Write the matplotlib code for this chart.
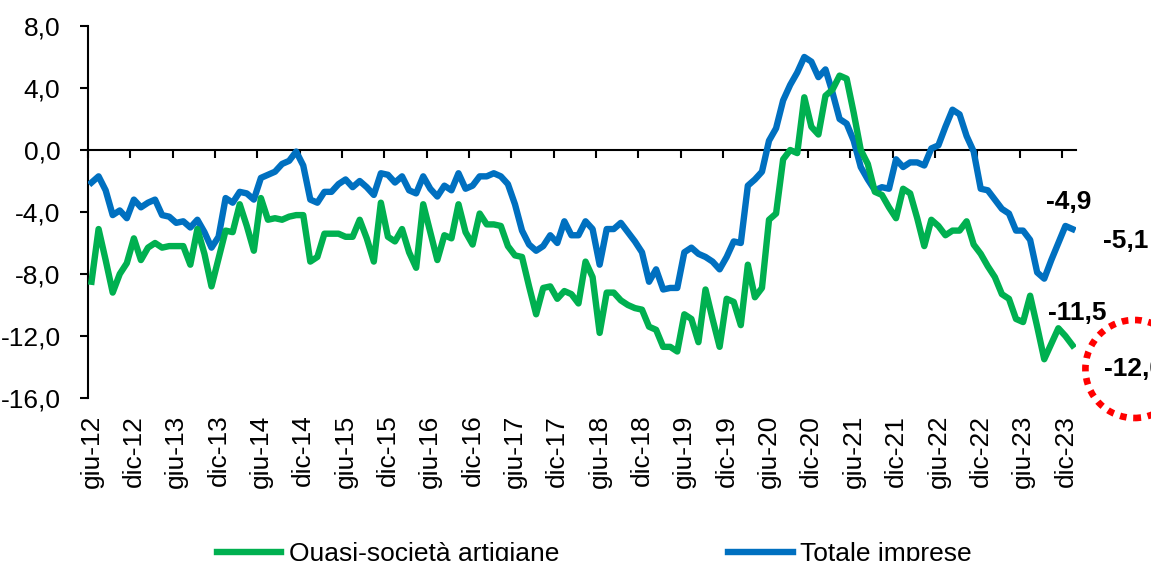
import numpy as np
import pandas as pd
import matplotlib
matplotlib.use("Agg")
import matplotlib.pyplot as plt
from matplotlib.ticker import FixedLocator, FuncFormatter
from matplotlib.transforms import blended_transform_factory

plt.rcParams['font.family'] = ['Liberation Sans', 'DejaVu Sans']

# Periodi mensili: giugno 2012 - gennaio 2024
mesi_it = ['gen', 'feb', 'mar', 'apr', 'mag', 'giu', 'lug', 'ago', 'set', 'ott', 'nov', 'dic']
date = pd.date_range('2012-06-01', '2024-01-01', freq='MS')
periodi = [f"{mesi_it[d.month - 1]}-{d.year % 100:02d}" for d in date]

# Tassi di variazione (%) - Quasi-società artigiane
quasi_soc = [
    -8.5, -5.1, -7.1, -9.2, -8.0, -7.3, -5.7, -7.1, -6.3, -6.0,
    -6.3, -6.2, -6.2, -6.2, -7.4, -5.1, -6.7, -8.8, -7.0, -5.2,
    -5.3, -3.5, -4.9, -6.5, -3.1, -4.5, -4.4, -4.5, -4.3, -4.2,
    -4.2, -7.2, -6.9, -5.4, -5.4, -5.4, -5.6, -5.6, -4.5, -5.7,
    -7.2, -3.4, -5.6, -5.9, -5.1, -6.6, -7.6, -3.5, -5.3, -7.1,
    -5.5, -5.7, -3.5, -5.3, -6.1, -4.1, -4.8, -4.8, -4.9, -6.2,
    -6.8, -6.9, -8.8, -10.6, -8.9, -8.8, -9.6, -9.1, -9.3, -9.9,
    -7.2, -8.2, -11.8, -9.2, -9.2, -9.7, -10.0, -10.2, -10.3, -11.4,
    -11.6, -12.7, -12.7, -13.0, -10.6, -10.9, -12.4, -9.0, -10.9, -12.7,
    -9.6, -9.8, -11.3, -7.4, -9.5, -8.9, -4.5, -4.1, -0.6, 0.0,
    -0.2, 3.4, 1.5, 1.0, 3.5, 3.9, 4.8, 4.6, 2.4, 0.0,
    -0.9, -2.7, -2.9, -3.7, -4.4, -2.5, -2.8, -4.4, -6.2, -4.5,
    -4.9, -5.5, -5.2, -5.2, -4.6, -6.1, -6.7, -7.5, -8.2, -9.3,
    -9.6, -10.9, -11.1, -9.4, -11.4, -13.5, -12.5, -11.5, -12.0, -12.6,
]

# Tassi di variazione (%) - Totale imprese
totale = [
    -2.1, -1.7, -2.6, -4.2, -3.9, -4.4, -3.2, -3.7, -3.4, -3.2,
    -4.2, -4.3, -4.7, -4.6, -5.0, -4.5, -5.3, -6.3, -5.6, -3.1,
    -3.4, -2.7, -2.8, -3.2, -1.8, -1.6, -1.4, -0.9, -0.7, -0.1,
    -1.0, -3.2, -3.4, -2.7, -2.7, -2.2, -1.9, -2.4, -2.0, -2.4,
    -2.9, -1.5, -1.6, -2.1, -1.7, -2.6, -2.8, -1.7, -2.5, -3.0,
    -2.3, -2.6, -1.5, -2.5, -2.3, -1.7, -1.7, -1.5, -1.7, -2.2,
    -3.5, -5.2, -6.1, -6.5, -6.2, -5.5, -6.0, -4.6, -5.5, -5.5,
    -4.6, -5.1, -7.4, -5.1, -5.1, -4.7, -5.3, -5.9, -6.6, -8.5,
    -7.7, -9.0, -8.9, -8.9, -6.6, -6.3, -6.7, -6.9, -7.2, -7.7,
    -6.9, -5.9, -6.0, -2.3, -1.9, -1.4, 0.6, 1.4, 3.2, 4.2,
    5.0, 6.0, 5.7, 4.7, 5.2, 3.7, 2.0, 1.7, 0.6, -1.1,
    -1.9, -2.6, -2.4, -2.5, -0.6, -1.1, -0.8, -0.8, -1.0, 0.1,
    0.3, 1.5, 2.6, 2.3, 0.9, -0.1, -2.5, -2.6, -3.2, -3.8,
    -4.1, -5.2, -5.2, -5.8, -7.9, -8.3, -7.1, -6.0, -4.9, -5.1,
]

etichette_serie = ['Quasi-società artigiane', 'Totale imprese']
col_verde = '#00B050'
col_blu = '#0070C0'


def fmt(v):
    return f"{v:.1f}".replace('.', ',')


fig = plt.figure(figsize=(11.51, 5.61), dpi=100)
ax = fig.add_axes([88 / 1151, 1 - 398 / 561, (1076 - 88) / 1151, (398 - 26) / 561])

x = np.arange(len(periodi))
l_blu, = ax.plot(x, totale, color=col_blu, lw=4.6, solid_joinstyle='round', zorder=3)
l_verde, = ax.plot(x, quasi_soc, color=col_verde, lw=4.6, solid_joinstyle='round', zorder=4)

ax.set_xlim(-0.5, len(periodi) - 0.5)
ax.set_ylim(-16, 8)

# asse y
ax.yaxis.set_major_locator(FixedLocator(np.arange(-16, 9, 4)))
ax.yaxis.set_major_formatter(FuncFormatter(lambda v, p: fmt(v)))
ax.tick_params(axis='y', direction='out', length=5.8, width=1.5, pad=14, labelsize=19)
ax.spines['left'].set_linewidth(1.5)
ax.spines['top'].set_visible(False)
ax.spines['right'].set_visible(False)

# asse x sullo zero, etichette in basso
ax.spines['bottom'].set_position(('data', 0))
ax.spines['bottom'].set_linewidth(1.5)
ax.set_xticks(np.arange(-0.5, len(periodi), 6))
ax.tick_params(axis='x', direction='out', length=5.8, width=1.5, labelbottom=False)
trans = blended_transform_factory(ax.transData, ax.transAxes)
for i in range(0, len(periodi), 6):
    ax.text(x[i], -0.045, periodi[i], rotation=90, ha='center', va='top',
            transform=trans, fontsize=19)

# valori ultimi mesi
ax.annotate(fmt(totale[-2]), xy=(x[-2], totale[-2]), xytext=(3, 24),
            textcoords='offset pixels', ha='center', va='center',
            fontsize=19, fontweight='bold')
ax.annotate(fmt(totale[-1]), xy=(x[-1], totale[-1]), xytext=(53, -12),
            textcoords='offset pixels', ha='center', va='center',
            fontsize=19, fontweight='bold')
ax.annotate(fmt(quasi_soc[-3]), xy=(x[-3], quasi_soc[-3]), xytext=(19, 15),
            textcoords='offset pixels', ha='center', va='center',
            fontsize=19, fontweight='bold')
ax.annotate(fmt(quasi_soc[-2]), xy=(x[-2], quasi_soc[-2]), xytext=(69, -33),
            textcoords='offset pixels', ha='center', va='center',
            fontsize=19, fontweight='bold',
            bbox=dict(boxstyle='circle,pad=0.72', fc='none', ec='#FF0000',
                      lw=4.8, ls=(0, (1, 1))))

fig.legend([l_verde, l_blu], etichette_serie, loc='center',
           bbox_to_anchor=(594 / 1151, 1 - 554 / 561), ncol=2, frameon=False,
           fontsize=19, handlelength=2.46, handletextpad=0.27, columnspacing=6.4)

fig.savefig('out.png', dpi=100)
